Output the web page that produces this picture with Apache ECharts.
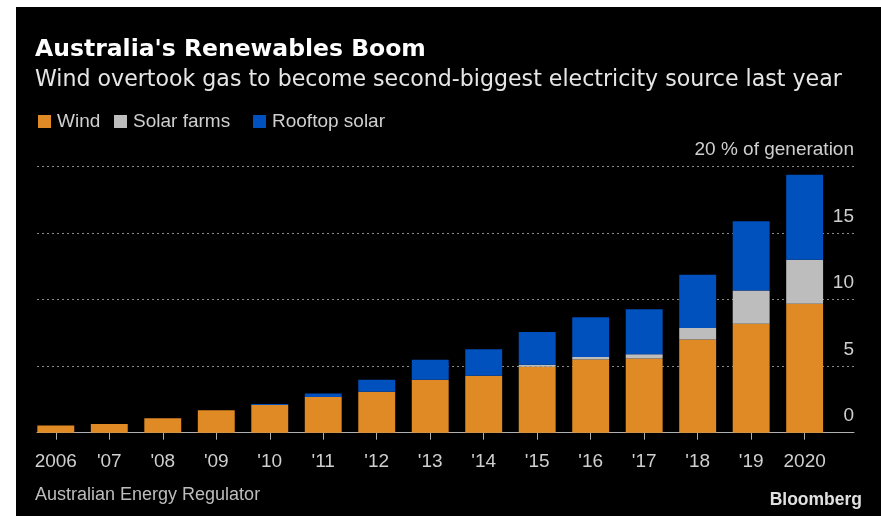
<!DOCTYPE html>
<html>
<head>
<meta charset="utf-8">
<script src="https://cdn.jsdelivr.net/npm/echarts@6/dist/echarts.min.js"></script>
<style>
  html, body { margin: 0; padding: 0; background: #ffffff; }
  #bg { position: absolute; left: 16px; top: 7px; width: 865px; height: 509px; background: #000000; }
  #chart { position: absolute; left: 0; top: 0; width: 881px; height: 516px; }
</style>
</head>
<body>
<div id="bg"></div>
<div id="chart"></div>
<script>
const years = ['2006', "'07", "'08", "'09", "'10", "'11", "'12", "'13", "'14", "'15", "'16", "'17", "'18", "'19", '2020'];
const wind = [0.55, 0.65, 1.08, 1.68, 2.08, 2.68, 3.08, 3.98, 4.28, 4.95, 5.5, 5.58, 7.0, 8.2, 9.7];
const solarFarms = [0, 0, 0, 0, 0, 0, 0, 0, 0, 0.15, 0.2, 0.32, 0.88, 2.5, 3.3];
const rooftopSolar = [0, 0, 0, 0, 0.08, 0.27, 0.9, 1.5, 2.0, 2.48, 2.98, 3.38, 4.0, 5.2, 6.4];
const yTicks = [0, 5, 10, 15, 20];
const yUnit = ' % of generation';
const seriesNames = ['Wind', 'Solar farms', 'Rooftop solar'];

const FONT = 'Liberation Sans, Arial, sans-serif';
const chart = echarts.init(document.getElementById('chart'), null, { renderer: 'canvas' });

const legendLefts = [38, 114, 253];
const legendStyle = {
  top: 112, padding: 0,
  itemWidth: 13, itemHeight: 13, itemGap: 0,
  icon: 'rect',
  textStyle: { color: '#cfcfcf', fontFamily: FONT, fontSize: 19, padding: [0, 0, 0, 1] }
};

const option = {
  backgroundColor: 'transparent',
  animation: false,
  title: [
    { text: "Australia's Renewables Boom", left: 35, top: 38, padding: 0,
      textStyle: { color: '#ffffff', fontFamily: 'DejaVu Sans', fontWeight: 'bold', fontSize: 23.5 } },
    { text: 'Wind overtook gas to become second-biggest electricity source last year', left: 35, top: 69, padding: 0,
      textStyle: { color: '#e6e6e6', fontFamily: 'DejaVu Sans', fontWeight: 'normal', fontSize: 22.1 } },
    { text: 'Australian Energy Regulator', left: 35, top: 486, padding: 0,
      textStyle: { color: '#bdbdbd', fontFamily: FONT, fontWeight: 'normal', fontSize: 18 } },
    { text: 'Bloomberg', right: 19, top: 491, padding: 0,
      textStyle: { color: '#e0e0e0', fontFamily: FONT, fontWeight: 'bold', fontSize: 17.5 } }
  ],
  legend: seriesNames.map(function (n, i) {
    return Object.assign({}, legendStyle, { left: legendLefts[i], data: [n] });
  }),
  grid: [
    { left: 37, right: 27, top: 166.7, bottom: 83.3 },
    { left: 29.05, right: 49.6, top: 166.7, bottom: 83.3 }
  ],
  xAxis: [
    { gridIndex: 0, type: 'value', min: 0, max: 1,
      axisLine: { show: true, lineStyle: { color: '#b0b0b0', width: 1 } },
      axisTick: { show: false }, axisLabel: { show: false }, splitLine: { show: false } },
    { gridIndex: 1, type: 'category', data: years,
      axisLine: { show: false },
      axisTick: { show: true, alignWithLabel: true, length: 7, lineStyle: { color: '#b0b0b0', width: 1 } },
      axisLabel: { interval: 0, color: '#cfcfcf', fontFamily: FONT, fontSize: 19, margin: 20 } }
  ],
  yAxis: [
    { gridIndex: 0, type: 'value', position: 'right', min: 0, max: 20, interval: 5,
      axisLine: { show: false }, axisTick: { show: false },
      splitLine: { show: true, lineStyle: { color: '#8a8a8a', type: [2, 3], width: 1 } },
      axisLabel: {
        inside: true, margin: 0, align: 'right', verticalAlign: 'bottom',
        color: '#cfcfcf', fontFamily: FONT, fontSize: 19, padding: [0, 0, 7, 0],
        formatter: function (v) { return yTicks.indexOf(v) === yTicks.length - 1 ? v + yUnit : String(v); }
      } },
    { gridIndex: 1, type: 'value', min: 0, max: 20, interval: 5, show: false,
      splitLine: { show: false } }
  ],
  series: [
    { name: 'Wind', type: 'bar', stack: 'total', xAxisIndex: 1, yAxisIndex: 1,
      data: wind, itemStyle: { color: '#df8a25' }, barCategoryGap: '31%' },
    { name: 'Solar farms', type: 'bar', stack: 'total', xAxisIndex: 1, yAxisIndex: 1,
      data: solarFarms, itemStyle: { color: '#bdbdbd' } },
    { name: 'Rooftop solar', type: 'bar', stack: 'total', xAxisIndex: 1, yAxisIndex: 1,
      data: rooftopSolar, itemStyle: { color: '#0051bd' } }
  ]
};
chart.setOption(option);
</script>
</body>
</html>
